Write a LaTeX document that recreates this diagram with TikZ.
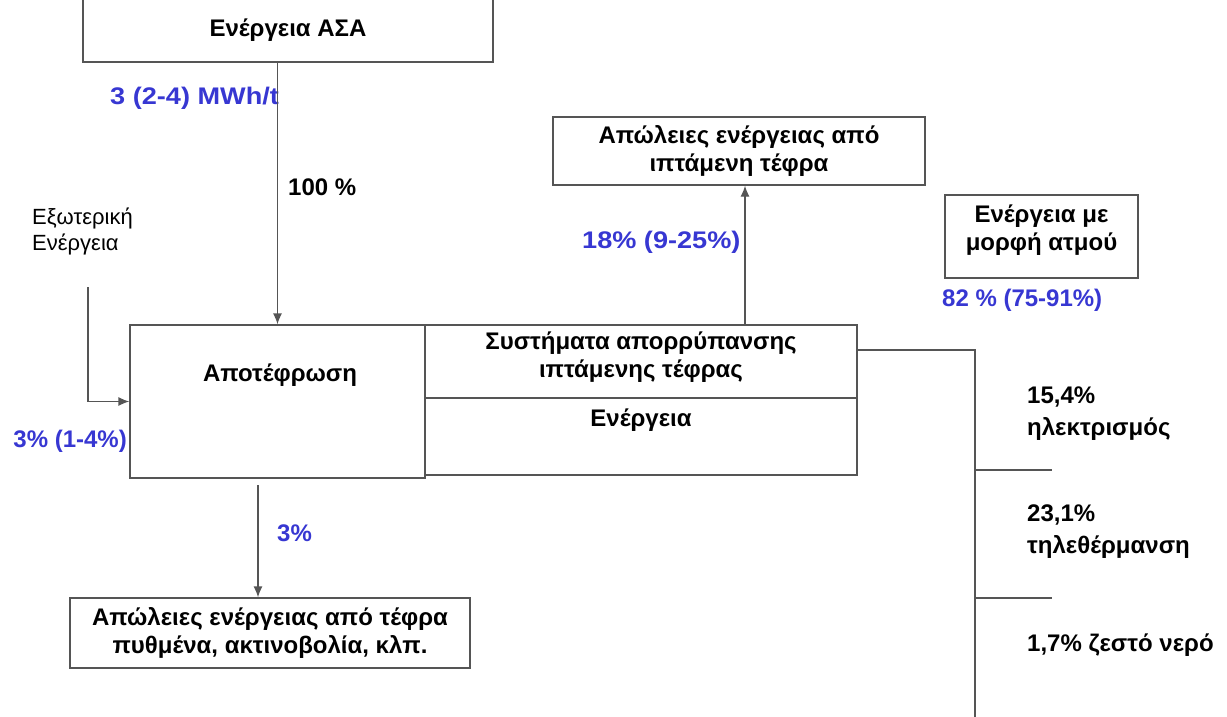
\documentclass[tikz,border=0pt]{standalone}
\usepackage{fontspec}
\setmainfont{Liberation Sans}
\definecolor{flowblue}{RGB}{55,55,210}
\definecolor{linegray}{RGB}{85,85,85}
\usetikzlibrary{arrows.meta,positioning}

\begin{document}
\begin{tikzpicture}[x=1pt,y=-1pt,
  box/.style={draw=linegray,line width=1.3pt,inner sep=0pt,
    font=\fontsize{24}{28}\selectfont\bfseries,align=center},
  boxtext/.style={font=\fontsize{24}{28}\selectfont\bfseries,align=center,inner sep=0pt},
  pct/.style={font=\fontsize{24}{28}\selectfont\bfseries,text=flowblue,inner sep=0pt},
  pctwide/.style={pct,font=\fontsize{24}{28}\selectfont\bfseries\addfontfeature{FakeStretch=1.13}},
  note/.style={font=\fontsize{24}{32}\selectfont\bfseries,align=left,inner sep=0pt},
  flow/.style={-{Latex[length=11pt,width=9pt]},line width=1.3pt,draw=linegray},
  wire/.style={line width=1.3pt,draw=linegray}]
  \useasboundingbox (0,0) rectangle (1227,716);
  % Boxes
  \node[box,minimum width=410pt,minimum height=72pt] (asa) at (288,26) {};
  \node[boxtext] (asatext) at (288,30) {Ενέργεια ΑΣΑ};
  \node[box,minimum width=295pt,minimum height=153pt] (apot) at (277.5,401.5) {};
  \node[boxtext] (apottext) at (280,375) {Αποτέφρωση};
  \node[box,minimum width=432pt,minimum height=73pt] (syst) at (641,361.5) {};
  \node[boxtext] (systtext) at (641,357) {Συστήματα απορρύπανσης\\ιπτάμενης τέφρας};
  \node[box,minimum width=432pt,minimum height=77pt] (energy) at (641,436.5) {};
  \node[boxtext] (energytext) at (641,420) {Ενέργεια};
  \node[box,minimum width=400pt,minimum height=70pt] (bottomloss) at (270,633)
    {Απώλειες ενέργειας από τέφρα\\πυθμένα, ακτινοβολία, κλπ.};
  \node[box,minimum width=372pt,minimum height=68pt] (flyloss) at (739,151)
    {Απώλειες ενέργειας από\\ιπτάμενη τέφρα};
  \node[box,minimum width=193pt,minimum height=83pt] (steam) at (1041.5,236.5) {};
  \node[boxtext] (steamtext) at (1041.5,230) {Ενέργεια με\\μορφή ατμού};
  % Labels
  \node[pctwide,anchor=west] (mwh) at (110,98) {3 (2-4) MWh/t};
  \node[note,anchor=west] (full) at (288,187) {100 \%};
  \node[anchor=west,align=left,inner sep=0pt,font=\fontsize{22}{26}\selectfont] (exttext) at (32,231)
    {Εξωτερική\\Ενέργεια};
  \node[pct,anchor=east] (extpct) at (127,441) {3\% (1-4\%)};
  \node[pct,anchor=west] (ashpct) at (277,533) {3\%};
  \node[pctwide,anchor=west] (flypct) at (582,242) {18\% (9-25\%)};
  \node[pct,anchor=west] (steampct) at (942,300) {82 \% (75-91\%)};
  \node[note,anchor=west] (electext) at (1027,414) {15,4\%\\ηλεκτρισμός};
  \node[note,anchor=west] (heattext) at (1027,532) {23,1\%\\τηλεθέρμανση};
  \node[note,anchor=west] (watertext) at (1027,645) {1,7\% ζεστό νερό};
  % Connectors
  \coordinate (extin) at (88,287);
  \coordinate (ashout) at (258,485);
  \coordinate (bustop) at (975,350);
  \coordinate (busend) at (975,720);
  \coordinate (elec) at (1052,470);
  \coordinate (heat) at (1052,598);
  \draw[flow] (asa.south -| apot.north) -- (apot.north);
  \draw[flow] (extin) |- (apot.west);
  \draw[flow] (ashout) -- (ashout |- bottomloss.north);
  \draw[flow] ([xshift=104pt]syst.north) -- ([xshift=104pt]syst.north |- flyloss.south);
  \draw[wire] ([yshift=11.5pt]syst.east) -- (bustop) -- (busend);
  \draw[wire] (elec -| bustop) -- (elec);
  \draw[wire] (heat -| bustop) -- (heat);
\end{tikzpicture}
\end{document}
